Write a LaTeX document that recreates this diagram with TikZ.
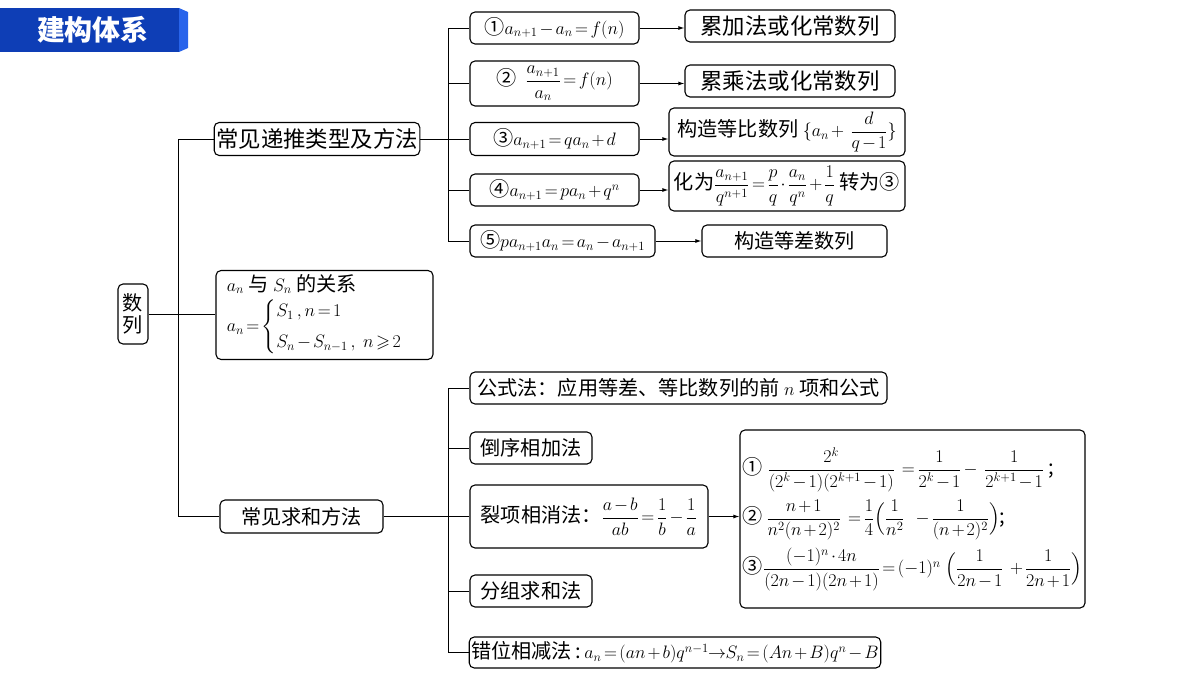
\RequirePackage{fix-cm}
\documentclass[tikz,border=0pt]{standalone}
\usepackage{amsmath,amssymb}
\usepackage{fontspec}
\setmainfont{Noto Sans CJK SC}[Scale=1.12]
\usepackage{tikz}
\usetikzlibrary{arrows.meta}

\definecolor{bannerblue}{RGB}{14,62,182}
\definecolor{bannerside}{RGB}{40,100,235}

\tikzset{
  cell/.style={draw, line width=1.1pt, rounded corners=5pt, inner sep=2pt, align=center},
  big font/.style={font=\fontsize{20}{24}\selectfont},
  link/.style={line width=1pt},
  arr/.style={line width=1pt, -{Latex[length=6pt,width=4pt]}}
}

\medmuskip=2mu
\thickmuskip=2.5mu

\begin{document}
\begin{tikzpicture}[x=1pt, y=-1pt, font=\fontsize{18}{22}\selectfont]
    \useasboundingbox (0,0) rectangle (1200,675);

    % Title banner
    \fill[bannerblue] (0,8) rectangle (179,52);
    \fill[bannerside] (179,8) -- (188,12) -- (188,48) -- (179,52) -- cycle;
    \node[text=white, font=\fontsize{25}{28}\selectfont\bfseries] (title) at (93,30) {建构体系};

    % Root and first level
    \node[cell, minimum width=30, minimum height=60, inner sep=0pt] (shu) at (133,314) {数\\列};
    \node[cell, big font, minimum width=194, minimum height=33] (ditui) at (317,139) {常见递推类型及方法};
    \node[cell, minimum width=217, minimum height=89, align=left] (guanxi) at (324.5,315)
        {$a_n$ 与 $S_n$ 的关系\\[3pt]
         {$a_n=\begin{cases} S_1\,, n=1\\[5pt] S_n-S_{n-1}\,,\ n\geqslant 2\end{cases}$}};
    \node[cell, minimum width=163, minimum height=33] (qiuhe) at (301.5,516.5) {常见求和方法};

    % Recursion types
    \node[cell, minimum width=169, minimum height=32] (r1) at (554.5,28) {①$a_{n+1}-a_n=f(n)$};
    \node[cell, minimum width=169, minimum height=45] (r2) at (554.5,83.5) {② \ $\dfrac{a_{n+1}}{a_n}=f(n)$};
    \node[cell, minimum width=169, minimum height=33] (r3) at (554.5,139) {③$a_{n+1}=qa_n+d$};
    \node[cell, minimum width=169, minimum height=32] (r4) at (554.5,190) {④$a_{n+1}=pa_n+q^n$};
    \node[cell, minimum width=185, minimum height=32] (r5) at (562.5,241) {⑤$pa_{n+1}a_n=a_n-a_{n+1}$};

    % Methods for them
    \node[cell, big font, minimum width=210, minimum height=32] (s1) at (790,26) {累加法或化常数列};
    \node[cell, big font, minimum width=210, minimum height=32] (s2) at (790,81) {累乘法或化常数列};
    \node[cell, minimum width=236, minimum height=48] (s3) at (787,132) {构造等比数列 $\{a_n+\ \dfrac{d}{q-1}\}$};
    \node[cell, minimum width=236, minimum height=50] (s4) at (787,186)
        {化为$\dfrac{a_{n+1}}{q^{n+1}}=\dfrac{p}{q}\cdot\dfrac{a_n}{q^n}+\dfrac{1}{q}$ 转为③};
    \node[cell, minimum width=185, minimum height=32] (s5) at (794.5,241) {构造等差数列};

    % Summation methods
    \node[cell, minimum width=417, minimum height=32] (q1) at (678.5,388) {公式法：应用等差、等比数列的前 $n$ 项和公式};
    \node[cell, minimum width=122, minimum height=32] (q2) at (531,448) {倒序相加法};
    \node[cell, minimum width=238, minimum height=63] (q3) at (589,516.5)
        {裂项相消法：$\dfrac{a-b}{ab}=\dfrac{1}{b}-\dfrac{1}{a}$};
    \node[cell, minimum width=122, minimum height=32] (q4) at (531,591) {分组求和法};
    \node[cell, minimum width=410, minimum height=31] (q5) at (675,652.5)
        {错位相减法\,:\,$a_n=(an+b)q^{n-1}\!\to\! S_n=(An+B)q^n-B$};

    % Split terms
    \node[cell, minimum width=345, minimum height=178, align=left] (big) at (912.5,519)
        {①\ $\dfrac{2^k}{(2^k-1)(2^{k+1}-1)}\ =\dfrac{1}{2^k-1}-\ \dfrac{1}{2^{k+1}-1}$\ ;\\[7pt]
         ②\,$\dfrac{n+1}{n^2(n+2)^2}\ =\dfrac{1}{4}\Bigl(\dfrac{1}{n^2}\ \ -\dfrac{1}{(n+2)^2}\Bigr)$;\\[7pt]
         ③$\dfrac{(-1)^n\cdot 4n}{(2n-1)(2n+1)}=(-1)^n\ \Bigl(\dfrac{1}{2n-1}\ +\dfrac{1}{2n+1}\Bigr)$};

    % Trunks
    \coordinate (trunkL) at (178,0);
    \coordinate (trunkR) at (448,0);
    \draw[link] (shu.east) -- (shu.east -| guanxi.west);
    \draw[link] (ditui.west) -- (ditui.west -| trunkL) |- (qiuhe.west);

    % Upper branches
    \draw[link] (ditui.east) -- (r3.west);
    \draw[link] (r1.west) -- (r1.west -| trunkR) |- (r5.west);
    \foreach \n in {r2,r4}
        \draw[link] (\n.west) -- (\n.west -| trunkR);
    \foreach \a/\b in {r1/s1, r2/s2, r3/s3, r4/s4, r5/s5}
        \draw[arr] (\a.east) -- (\a.east -| \b.west);

    % Lower branches
    \draw[link] (qiuhe.east) -- (q3.west);
    \draw[link] (q1.west) -- (q1.west -| trunkR) |- (q5.west);
    \foreach \n in {q2,q4}
        \draw[link] (\n.west) -- (\n.west -| trunkR);
    \draw[arr] (q3.east) -- (q3.east -| big.west); % to the split terms
\end{tikzpicture}
\end{document}
